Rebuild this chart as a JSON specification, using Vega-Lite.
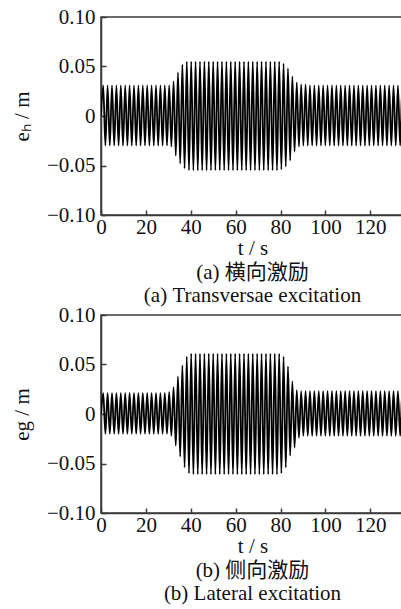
{
 "$schema": "https://vega.github.io/schema/vega-lite/v6.json",
 "padding": {"left": 10, "top": 5, "right": 0, "bottom": 0},
 "background": "white",
 "config": {
  "font": "Liberation Serif",
  "view": {"stroke": "#3a3a3a", "strokeWidth": 1.5},
  "axis": {"domainColor": "#3a3a3a", "domainWidth": 1.5, "tickColor": "#3a3a3a", "tickWidth": 1.5, "tickSize": -5, "grid": false, "labelFont": "Liberation Serif", "labelFontSize": 21, "labelColor": "#111", "titleFont": "Liberation Serif", "titleFontSize": 21, "titleFontWeight": "normal", "titleColor": "#111"},
  "title": {"font": "Liberation Serif, Noto Sans CJK SC", "fontSize": 21, "fontWeight": "normal", "color": "#111", "orient": "bottom", "anchor": "middle", "frame": "group", "offset": 4, "lineHeight": 23}
 },
 "datasets": {
  "d": [
   {"t":0,"h":0,"g":0},
   {"t":0.98,"h":0.031,"g":0.021},{"t":1.96,"h":-0.03,"g":-0.02},
   {"t":2.94,"h":0.031,"g":0.021},{"t":3.92,"h":-0.03,"g":-0.02},
   {"t":4.9,"h":0.031,"g":0.021},{"t":5.88,"h":-0.03,"g":-0.02},
   {"t":6.86,"h":0.031,"g":0.021},{"t":7.84,"h":-0.03,"g":-0.02},
   {"t":8.82,"h":0.031,"g":0.021},{"t":9.8,"h":-0.03,"g":-0.02},
   {"t":10.78,"h":0.031,"g":0.021},{"t":11.76,"h":-0.03,"g":-0.02},
   {"t":12.74,"h":0.031,"g":0.021},{"t":13.72,"h":-0.03,"g":-0.02},
   {"t":14.7,"h":0.031,"g":0.021},{"t":15.68,"h":-0.03,"g":-0.02},
   {"t":16.66,"h":0.031,"g":0.021},{"t":17.64,"h":-0.03,"g":-0.02},
   {"t":18.62,"h":0.031,"g":0.021},{"t":19.6,"h":-0.03,"g":-0.02},
   {"t":20.58,"h":0.031,"g":0.021},{"t":21.56,"h":-0.03,"g":-0.02},
   {"t":22.54,"h":0.031,"g":0.021},{"t":23.52,"h":-0.03,"g":-0.02},
   {"t":24.5,"h":0.031,"g":0.021},{"t":25.48,"h":-0.03,"g":-0.02},
   {"t":26.46,"h":0.031,"g":0.021},{"t":27.44,"h":-0.03,"g":-0.02},
   {"t":28.42,"h":0.031,"g":0.021},{"t":29.4,"h":-0.03,"g":-0.02},
   {"t":30.38,"h":0.031,"g":0.022},{"t":31.36,"h":-0.031,"g":-0.022},
   {"t":32.34,"h":0.035,"g":0.027},{"t":33.32,"h":-0.04,"g":-0.032},
   {"t":34.3,"h":0.044,"g":0.038},{"t":35.28,"h":-0.048,"g":-0.043},
   {"t":36.26,"h":0.052,"g":0.049},{"t":37.24,"h":-0.053,"g":-0.054},
   {"t":38.22,"h":0.055,"g":0.058},{"t":39.2,"h":-0.055,"g":-0.06},
   {"t":40.18,"h":0.055,"g":0.061},{"t":41.16,"h":-0.055,"g":-0.061},
   {"t":42.14,"h":0.055,"g":0.061},{"t":43.12,"h":-0.055,"g":-0.061},
   {"t":44.1,"h":0.055,"g":0.061},{"t":45.08,"h":-0.055,"g":-0.061},
   {"t":46.06,"h":0.055,"g":0.061},{"t":47.04,"h":-0.055,"g":-0.061},
   {"t":48.02,"h":0.055,"g":0.061},{"t":49,"h":-0.055,"g":-0.061},
   {"t":49.98,"h":0.055,"g":0.061},{"t":50.96,"h":-0.055,"g":-0.061},
   {"t":51.94,"h":0.055,"g":0.061},{"t":52.92,"h":-0.055,"g":-0.061},
   {"t":53.9,"h":0.055,"g":0.061},{"t":54.88,"h":-0.055,"g":-0.061},
   {"t":55.86,"h":0.055,"g":0.061},{"t":56.84,"h":-0.055,"g":-0.061},
   {"t":57.82,"h":0.055,"g":0.061},{"t":58.8,"h":-0.055,"g":-0.061},
   {"t":59.78,"h":0.055,"g":0.061},{"t":60.76,"h":-0.055,"g":-0.061},
   {"t":61.74,"h":0.055,"g":0.061},{"t":62.72,"h":-0.055,"g":-0.061},
   {"t":63.7,"h":0.055,"g":0.061},{"t":64.68,"h":-0.055,"g":-0.061},
   {"t":65.66,"h":0.055,"g":0.061},{"t":66.64,"h":-0.055,"g":-0.061},
   {"t":67.62,"h":0.055,"g":0.061},{"t":68.6,"h":-0.055,"g":-0.061},
   {"t":69.58,"h":0.055,"g":0.061},{"t":70.56,"h":-0.055,"g":-0.061},
   {"t":71.54,"h":0.055,"g":0.061},{"t":72.52,"h":-0.055,"g":-0.061},
   {"t":73.5,"h":0.055,"g":0.061},{"t":74.48,"h":-0.055,"g":-0.061},
   {"t":75.46,"h":0.055,"g":0.061},{"t":76.44,"h":-0.055,"g":-0.061},
   {"t":77.42,"h":0.055,"g":0.061},{"t":78.4,"h":-0.055,"g":-0.061},
   {"t":79.38,"h":0.055,"g":0.061},{"t":80.36,"h":-0.054,"g":-0.06},
   {"t":81.34,"h":0.053,"g":0.058},{"t":82.32,"h":-0.051,"g":-0.054},
   {"t":83.3,"h":0.048,"g":0.048},{"t":84.28,"h":-0.045,"g":-0.042},
   {"t":85.26,"h":0.04,"g":0.033},{"t":86.24,"h":-0.036,"g":-0.034},
   {"t":87.22,"h":0.034,"g":0.024},{"t":88.2,"h":-0.031,"g":-0.024},
   {"t":89.18,"h":0.032,"g":0.023},{"t":90.16,"h":-0.03,"g":-0.022},
   {"t":91.14,"h":0.032,"g":0.023},{"t":92.12,"h":-0.03,"g":-0.022},
   {"t":93.1,"h":0.031,"g":0.023},{"t":94.08,"h":-0.03,"g":-0.022},
   {"t":95.06,"h":0.031,"g":0.023},{"t":96.04,"h":-0.03,"g":-0.022},
   {"t":97.02,"h":0.031,"g":0.023},{"t":98,"h":-0.03,"g":-0.022},
   {"t":98.98,"h":0.031,"g":0.023},{"t":99.96,"h":-0.03,"g":-0.022},
   {"t":100.94,"h":0.031,"g":0.023},{"t":101.92,"h":-0.03,"g":-0.022},
   {"t":102.9,"h":0.031,"g":0.023},{"t":103.88,"h":-0.03,"g":-0.022},
   {"t":104.86,"h":0.031,"g":0.023},{"t":105.84,"h":-0.03,"g":-0.022},
   {"t":106.82,"h":0.031,"g":0.023},{"t":107.8,"h":-0.03,"g":-0.022},
   {"t":108.78,"h":0.031,"g":0.023},{"t":109.76,"h":-0.03,"g":-0.022},
   {"t":110.74,"h":0.031,"g":0.023},{"t":111.72,"h":-0.03,"g":-0.022},
   {"t":112.7,"h":0.031,"g":0.023},{"t":113.68,"h":-0.03,"g":-0.022},
   {"t":114.66,"h":0.031,"g":0.023},{"t":115.64,"h":-0.03,"g":-0.022},
   {"t":116.62,"h":0.031,"g":0.023},{"t":117.6,"h":-0.03,"g":-0.022},
   {"t":118.58,"h":0.031,"g":0.023},{"t":119.56,"h":-0.03,"g":-0.022},
   {"t":120.54,"h":0.031,"g":0.023},{"t":121.52,"h":-0.03,"g":-0.022},
   {"t":122.5,"h":0.031,"g":0.023},{"t":123.48,"h":-0.03,"g":-0.022},
   {"t":124.46,"h":0.031,"g":0.023},{"t":125.44,"h":-0.03,"g":-0.022},
   {"t":126.42,"h":0.031,"g":0.023},{"t":127.4,"h":-0.03,"g":-0.022},
   {"t":128.38,"h":0.031,"g":0.023},{"t":129.36,"h":-0.03,"g":-0.022},
   {"t":130.34,"h":0.031,"g":0.023},{"t":131.32,"h":-0.03,"g":-0.022},
   {"t":132.3,"h":0.031,"g":0.023},{"t":133.28,"h":-0.03,"g":-0.022},
   {"t":134.26,"h":0.031,"g":0.023},{"t":135.24,"h":-0.03,"g":-0.022}
  ]
 },
 "spacing": 100,
 "bounds": "flush",
 "vconcat": [
  {
   "width": 303,
   "height": 198,
   "data": {"name": "d"},
   "title": {"text": ["(a)  横向激励", "(a)  Transversae excitation"]},
   "mark": {"type": "line", "interpolate": "monotone", "color": "black", "strokeWidth": 1.8, "clip": true},
   "encoding": {
    "x": {"field": "t", "type": "quantitative", "scale": {"domain": [0, 135], "nice": false, "zero": false}, "axis": {"values": [0, 20, 40, 60, 80, 100, 120], "title": "t / s", "labelFlush": false, "labelPadding": 6, "titlePadding": 0}},
    "y": {"field": "h", "type": "quantitative", "scale": {"domain": [-0.1, 0.1], "nice": false}, "axis": {"values": [-0.1, -0.05, 0, 0.05, 0.1], "labelExpr": "datum.value == 0 ? '0' : format(datum.value, '.2f')", "title": "eₕ / m", "labelPadding": 11, "titlePadding": 14}}
   }
  },
  {
   "width": 303,
   "height": 198,
   "data": {"name": "d"},
   "title": {"text": ["(b)  侧向激励", "(b)  Lateral excitation"]},
   "mark": {"type": "line", "interpolate": "monotone", "color": "black", "strokeWidth": 1.8, "clip": true},
   "encoding": {
    "x": {"field": "t", "type": "quantitative", "scale": {"domain": [0, 135], "nice": false, "zero": false}, "axis": {"values": [0, 20, 40, 60, 80, 100, 120], "title": "t / s", "labelFlush": false, "labelPadding": 6, "titlePadding": 0}},
    "y": {"field": "g", "type": "quantitative", "scale": {"domain": [-0.1, 0.1], "nice": false}, "axis": {"values": [-0.1, -0.05, 0, 0.05, 0.1], "labelExpr": "datum.value == 0 ? '0' : format(datum.value, '.2f')", "title": "eg / m", "labelPadding": 11, "titlePadding": 14}}
   }
  }
 ]
}
